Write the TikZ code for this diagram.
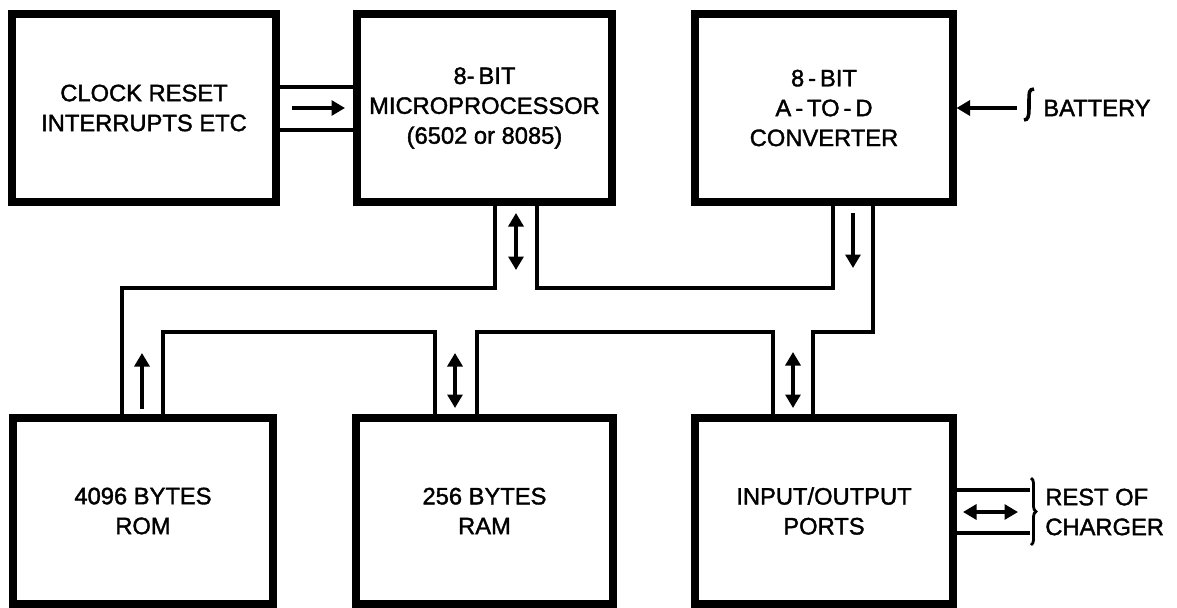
\documentclass[tikz,border=0pt]{standalone}
\usepackage{fontspec}
\setmainfont{Liberation Sans}[BoldFont={Liberation Sans}, BoldFeatures={FakeBold=1.6}]
\usetikzlibrary{arrows.meta, decorations.pathreplacing}

\begin{document}
\begin{tikzpicture}[
  block/.style={draw, line width=4pt, minimum width=5.16cm, minimum height=3.76cm,
    inner sep=0pt, align=center, font=\fontsize{13.5}{17}\selectfont\bfseries},
  bus/.style={line width=2pt, line join=miter},
  flow/.style={line width=1.8pt, -{Triangle[length=0.27cm,width=0.3cm]}},
  dflow/.style={line width=1.8pt,
    {Triangle[length=0.27cm,width=0.3cm]}-{Triangle[length=0.27cm,width=0.3cm]}},
  sidetext/.style={anchor=west, inner sep=0pt, align=left,
    font=\fontsize{13.5}{17}\selectfont\bfseries}]

  \useasboundingbox (0,0) rectangle (23.54,-12.14);

  % top row of blocks
  \node[block, minimum width=5.28cm] (clock) at (2.88,-2.16) {CLOCK RESET\\INTERRUPTS ETC};
  \node[block, minimum width=5.10cm] (micro) at (9.69,-2.16) {8-\,BIT\\MICROPROCESSOR\\(6502 or 8085)};
  \node[block] (adc) at (16.48,-2.16) {8\,-\,BIT\\A\,-\,TO\,-\,D\\CONVERTER};

  % bottom row of blocks
  \node[block, minimum width=5.2cm, minimum height=3.72cm] (rom) at (2.86,-10.22) {4096 BYTES\\ROM};
  \node[block, minimum width=5.14cm, minimum height=3.72cm] (ram) at (9.69,-10.22) {256 BYTES\\RAM};
  \node[block, minimum height=3.72cm] (io) at (16.48,-10.22) {INPUT/OUTPUT\\PORTS};

  % bus levels and taps
  \coordinate (upper) at (0,-5.76);
  \coordinate (lower) at (0,-6.64);
  \coordinate (mpA) at ([xshift=0.21cm]micro.south);
  \coordinate (mpB) at ([xshift=1.05cm]micro.south);
  \coordinate (adA) at ([xshift=0.18cm]adc.south);
  \coordinate (adB) at ([xshift=0.98cm]adc.south);
  \coordinate (romA) at ([xshift=-0.42cm]rom.north);
  \coordinate (romB) at ([xshift=0.40cm]rom.north);
  \coordinate (ramA) at ([xshift=-0.99cm]ram.north);
  \coordinate (ramB) at ([xshift=-0.15cm]ram.north);
  \coordinate (ioA) at ([xshift=-1.02cm]io.north);
  \coordinate (ioB) at ([xshift=-0.22cm]io.north);

  % clock lines into microprocessor
  \coordinate (ckA) at ([yshift=0.42cm]clock.east);
  \coordinate (ckB) at ([yshift=-0.44cm]clock.east);
  \draw[bus] (ckA) -- (ckA -| micro.west);
  \draw[bus] (ckB) -- (ckB -| micro.west);
  \draw[flow] (5.84,-2.16) -- (6.90,-2.16);

  % data bus
  \draw[bus] (mpA) -- (mpA |- upper) -- (romA |- upper) -- (romA);
  \draw[bus] (mpB) -- (mpB |- upper) -- (adA |- upper) -- (adA);
  \draw[bus] (adB) -- (adB |- lower) -- (ioB |- lower) -- (ioB);
  \draw[bus] (ioA) -- (ioA |- lower) -- (ramB |- lower) -- (ramB);
  \draw[bus] (ramA) -- (ramA |- lower) -- (romB |- lower) -- (romB);

  % direction marks on the bus
  \draw[dflow] (10.32,-4.26) -- (10.32,-5.40);
  \draw[flow] (17.06,-4.26) -- (17.06,-5.36);
  \draw[flow] (2.84,-8.18) -- (2.84,-7.06);
  \draw[dflow] (9.10,-7.06) -- (9.10,-8.16);
  \draw[dflow] (15.86,-7.04) -- (15.86,-8.16);

  % battery input
  \coordinate (bat) at (20.34,-2.16);
  \draw[flow] (bat) -- (adc.east);
  \draw[line width=2pt] (20.68,-1.78) .. controls (20.58,-1.78) and (20.58,-1.86) .. (20.58,-1.98)
    -- (20.58,-2.18) .. controls (20.58,-2.32) and (20.56,-2.40) .. (20.48,-2.40);
  \node[sidetext] (battery) at (20.86,-2.16) {BATTERY};

  % link to rest of charger
  \coordinate (rest) at (20.60,-10.22);
  \draw[bus] ([yshift=0.42cm]io.east) -- ([yshift=0.42cm]rest);
  \draw[bus] ([yshift=-0.44cm]io.east) -- ([yshift=-0.44cm]rest);
  \draw[dflow] (19.26,-10.24) -- (20.36,-10.24);
  \draw[line width=1.6pt, decorate, decoration={brace, amplitude=0.1cm}]
    (20.62,-9.56) -- (20.62,-10.90);
  \node[sidetext] (charger) at (20.90,-10.24) {REST OF\\CHARGER};

\end{tikzpicture}
\end{document}
